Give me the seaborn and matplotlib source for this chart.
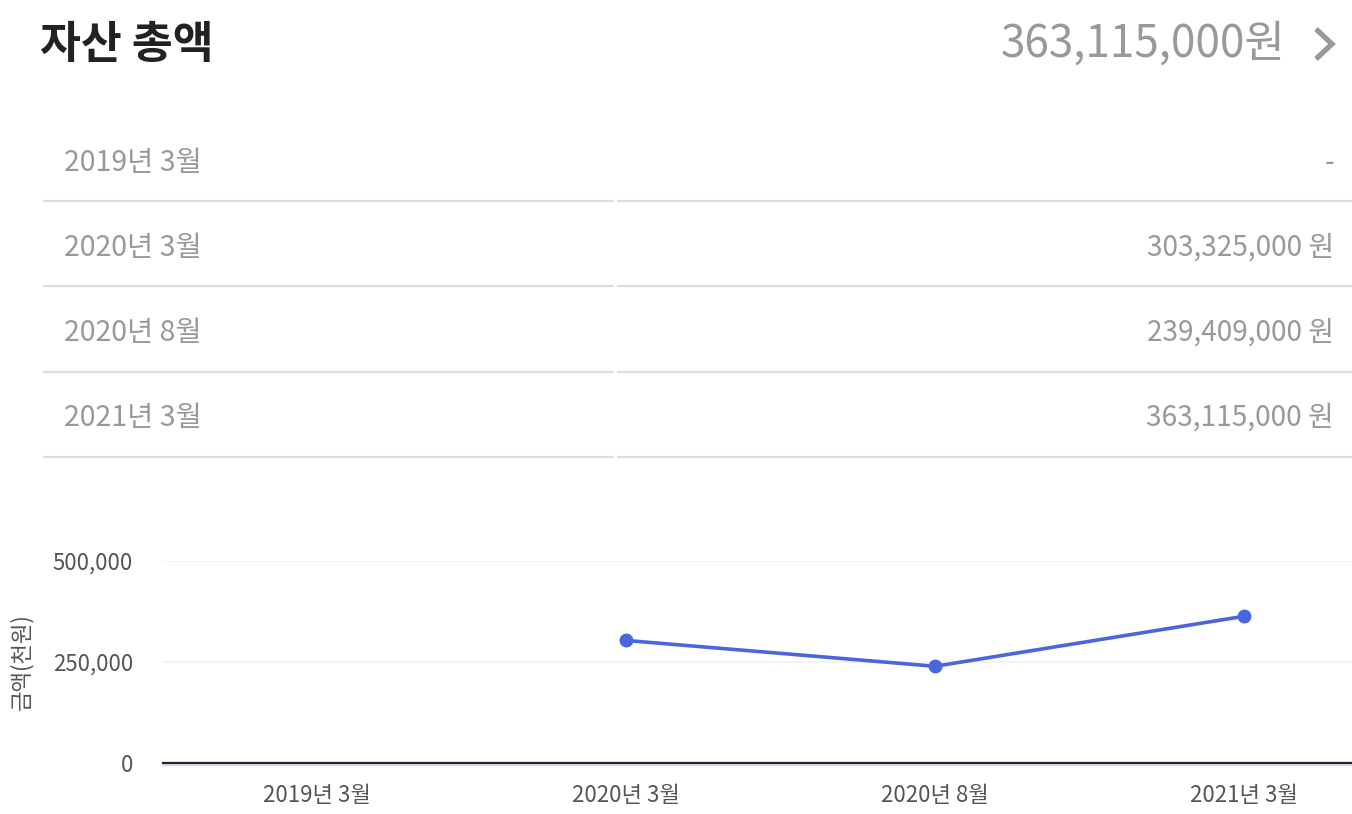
import numpy as np
import pandas as pd
import matplotlib
matplotlib.use("Agg")
import matplotlib.pyplot as plt
from matplotlib.lines import Line2D
import seaborn as sns

# ---- data ----
title = "자산 총액"
categories = ["2019년 3월", "2020년 3월", "2020년 8월", "2021년 3월"]
amounts_thousand = [np.nan, 303325, 239409, 363115]   # 금액(천원)
y_ticks = [0, 250000, 500000]
y_label = "금액(천원)"

sns.set_theme(style="white")
plt.rcParams["font.family"] = ["Noto Sans CJK KR", "DejaVu Sans"]

W, H = 1352, 814
fig = plt.figure(figsize=(W / 100, H / 100), dpi=100)
fig.patch.set_facecolor("white")

def fx(px):
    return px / W

def fy(py):
    return 1 - py / H

GRAY = "#999999"
DARK = "#222222"
TICK = "#555555"

# ---- header ----
fig.text(fx(40), fy(45), title, fontsize=32, fontweight="bold", color=DARK,
         ha="left", va="center")
latest = amounts_thousand[-1] * 1000
fig.text(fx(1286), fy(44), f"{latest:,.0f}원", fontsize=31.7, color=GRAY,
         ha="right", va="center")
fig.add_artist(Line2D([fx(1316), fx(1332), fx(1316)], [fy(29), fy(44), fy(59)],
                      color=GRAY, linewidth=3.8, solid_capstyle="butt",
                      solid_joinstyle="miter"))

# ---- table ----
row_centers = [163, 248, 333, 418]
row_lines = [201, 286, 372, 457]
for cat, val, yc, yl in zip(categories, amounts_thousand, row_centers, row_lines):
    fig.text(fx(64), fy(yc), cat, fontsize=20.5, color=GRAY, ha="left", va="center")
    txt = "-" if np.isnan(val) else f"{val * 1000:,.0f} 원"
    fig.text(fx(1334), fy(yc), txt, fontsize=20.2, color=GRAY, ha="right", va="center")
    fig.add_artist(Line2D([fx(44), fx(613)], [fy(yl), fy(yl)], color="#dddddd", linewidth=1.6))
    fig.add_artist(Line2D([fx(618), fx(1352)], [fy(yl), fy(yl)], color="#dddddd", linewidth=1.6))

# ---- chart ----
left, right, top, bottom = 163, 1352, 561, 763
ax = fig.add_axes([fx(left), fy(bottom), fx(right - left), (bottom - top) / H])
df = pd.DataFrame({"pos": np.arange(len(categories)), "amount": amounts_thousand})
sns.lineplot(data=df, x="pos", y="amount", ax=ax, color="#4a65e0", linewidth=2.6,
             marker="o", markersize=10, markeredgewidth=0, clip_on=False)

ax.set_xlim(-0.5, 3.35)
ax.set_ylim(0, 500000)
ax.set_xticks(np.arange(len(categories)))
ax.set_xticklabels(categories)
ax.set_yticks(y_ticks)
ax.set_yticklabels([f"{v:,}" for v in y_ticks])
ax.tick_params(axis="both", length=0, labelsize=16, colors=TICK)
ax.tick_params(axis="y", pad=21.5)
ax.tick_params(axis="x", pad=15)
ax.set_xlabel("")
ax.set_ylabel(y_label, fontsize=16, color=TICK)
ax.yaxis.set_label_coords((33 - left) / (right - left), 0.5)
ax.grid(axis="y", color="#f1f1f1", linewidth=1.2)
ax.grid(axis="x", visible=False)
for s in ["top", "right", "left"]:
    ax.spines[s].set_visible(False)
ax.spines["bottom"].set_color(DARK)
ax.spines["bottom"].set_linewidth(1.6)
ax.spines["bottom"].set_zorder(3)
fig.add_artist(Line2D([fx(left), fx(right)], [fy(765), fy(765)], color="#c9d1ec", linewidth=1.2))

fig.savefig("out.png", dpi=100, facecolor="white")
